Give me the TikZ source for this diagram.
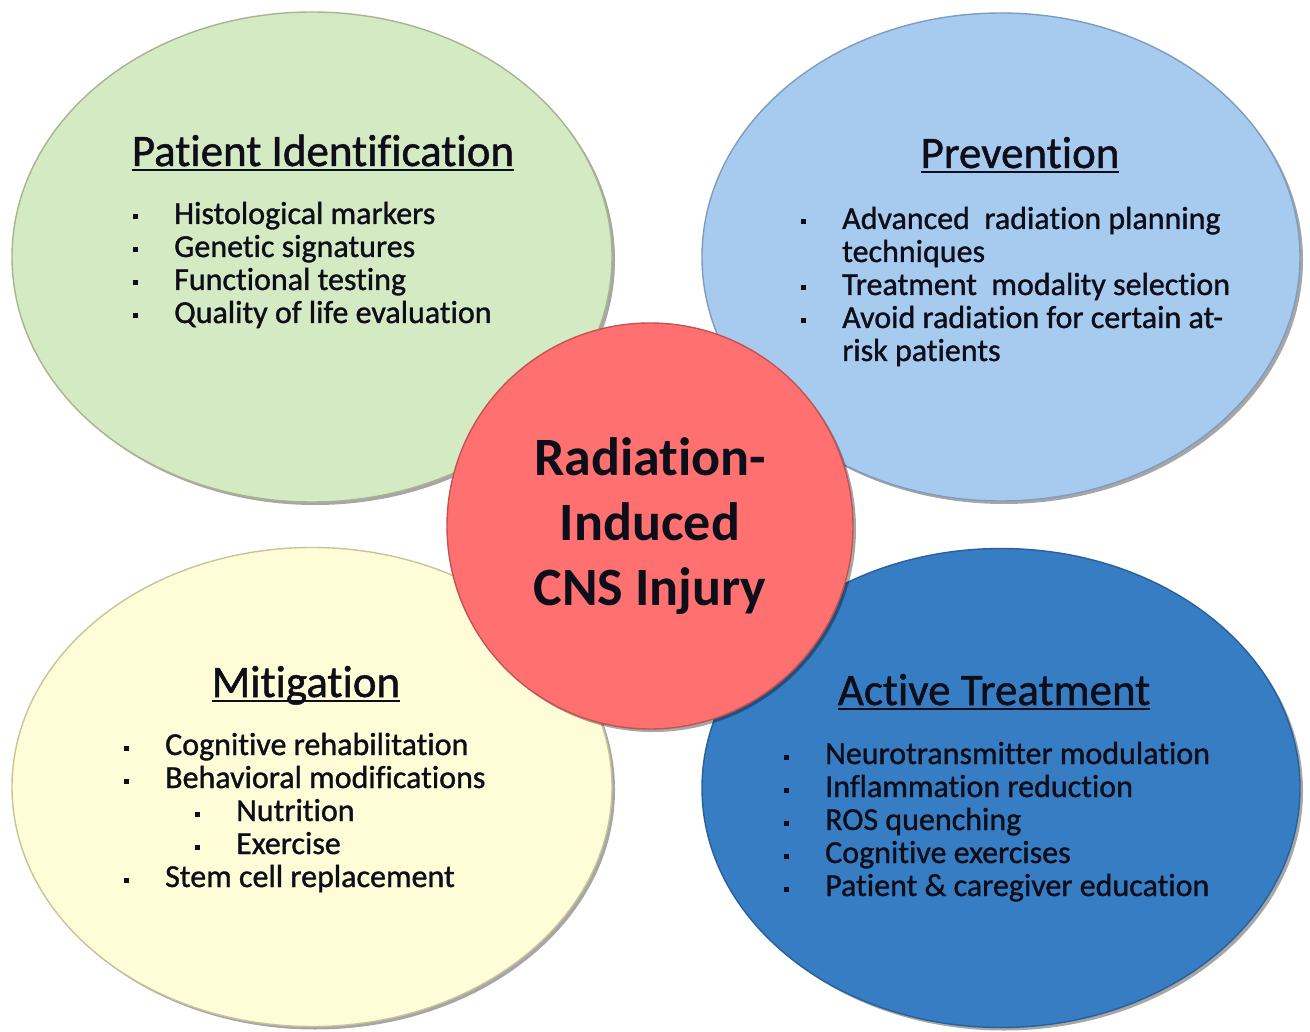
\documentclass[tikz,border=0pt]{standalone}
\usepackage{fontspec}
\setmainfont{Carlito}[RawFeature={-liga;-clig}, FakeBold=0]
\newfontfamily\heavyface{Carlito}[RawFeature={-liga;-clig}, FakeBold=1.1]
\usetikzlibrary{shapes.geometric,shadows}

\definecolor{ink}{HTML}{0E0E1A}
\definecolor{leafgreen}{HTML}{D4EAC2}
\definecolor{leafrim}{HTML}{A9B48E}
\definecolor{skyblue}{HTML}{A7CBEF}
\definecolor{skyrim}{HTML}{7F9CBD}
\definecolor{cream}{HTML}{FEFDD8}
\definecolor{creamrim}{HTML}{C9C39A}
\definecolor{deepblue}{HTML}{377DC3}
\definecolor{deeprim}{HTML}{28609A}
\definecolor{coral}{HTML}{FF7070}
\definecolor{coralrim}{HTML}{C55252}

% square bullet hanging to the left of the item text
\newcommand\blt{\llap{\rule[4.5pt]{5pt}{5pt}\hspace{36pt}}}
% heading with a fixed-depth underline (descenders cross it)
\newsavebox\ttlbox
\newcommand\ttl[1]{\sbox\ttlbox{#1}\rlap{\rule[-5pt]{\wd\ttlbox}{2.4pt}}\usebox\ttlbox}

\begin{document}
\begin{tikzpicture}[x=1pt,y=-1pt,
  blob/.style={ellipse, inner sep=0pt, line width=1.4pt,
    drop shadow={shadow xshift=3pt, shadow yshift=-3pt, fill=black, opacity=0.35}},
  core/.style={circle, inner sep=0pt, minimum size=406pt, line width=1.4pt,
    fill=coral, draw=coralrim, text=ink, align=center,
    font=\fontsize{54}{65}\selectfont\bfseries,
    drop shadow={shadow xshift=3pt, shadow yshift=-3pt, fill=black, opacity=0.35}},
  head/.style={anchor=base, inner sep=0pt, text=ink, font=\heavyface\fontsize{45}{54}\selectfont},
  items/.style={anchor=base west, inner sep=0pt, text=ink, font=\heavyface\fontsize{32}{33}\selectfont}]

\useasboundingbox[fill=white] (0,0) rectangle (1310,1032);

% four surrounding areas
\node[blob, minimum width=600pt, minimum height=490pt, fill=leafgreen, draw=leafrim] (ident) at (312,257) {};
\node[blob, minimum width=598pt, minimum height=488pt, fill=skyblue, draw=skyrim] (prev) at (1001,257) {};
\node[blob, minimum width=600pt, minimum height=479pt, fill=cream, draw=creamrim] (mitig) at (312,787) {};
\node[blob, minimum width=598pt, minimum height=479pt, fill=deepblue, draw=deeprim] (treat) at (1001,788) {};

% central topic
\node[core] (injury) at (650,526) {Radiation-\\Induced\\CNS Injury};

% headings
\node[head] (identT) at (323,166) {\ttl{Patient Identification}};
\node[head] (prevT) at (1020,168) {\ttl{Prevention}};
\node[head] (mitigT) at (306,697) {\ttl{Mitigation}};
\node[head] (treatT) at (994,705) {\ttl{Active Treatment}};

% item lists
\node[items] (identL) at (174,224) {\begin{tabular}[t]{@{}l@{}}
\blt Histological markers\\
\blt Genetic signatures\\
\blt Functional testing\\
\blt Quality of life evaluation
\end{tabular}};

\node[items] (prevL) at (842,229) {\begin{tabular}[t]{@{}l@{}}
\blt Advanced~ radiation planning\\
techniques\\
\blt Treatment~ modality selection\\
\blt Avoid radiation for certain at-\\
risk patients
\end{tabular}};

\node[items] (mitigL) at (165,755) {\begin{tabular}[t]{@{}l@{}}
\blt Cognitive rehabilitation\\
\blt Behavioral modifications\\
\hspace{71pt}\blt Nutrition\\
\hspace{71pt}\blt Exercise\\
\blt Stem cell replacement
\end{tabular}};

\node[items] (treatL) at (825,764) {\begin{tabular}[t]{@{}l@{}}
\blt Neurotransmitter modulation\\
\blt Inflammation reduction\\
\blt ROS quenching\\
\blt Cognitive exercises\\
\blt Patient \& caregiver education
\end{tabular}};
\end{tikzpicture}
\end{document}
